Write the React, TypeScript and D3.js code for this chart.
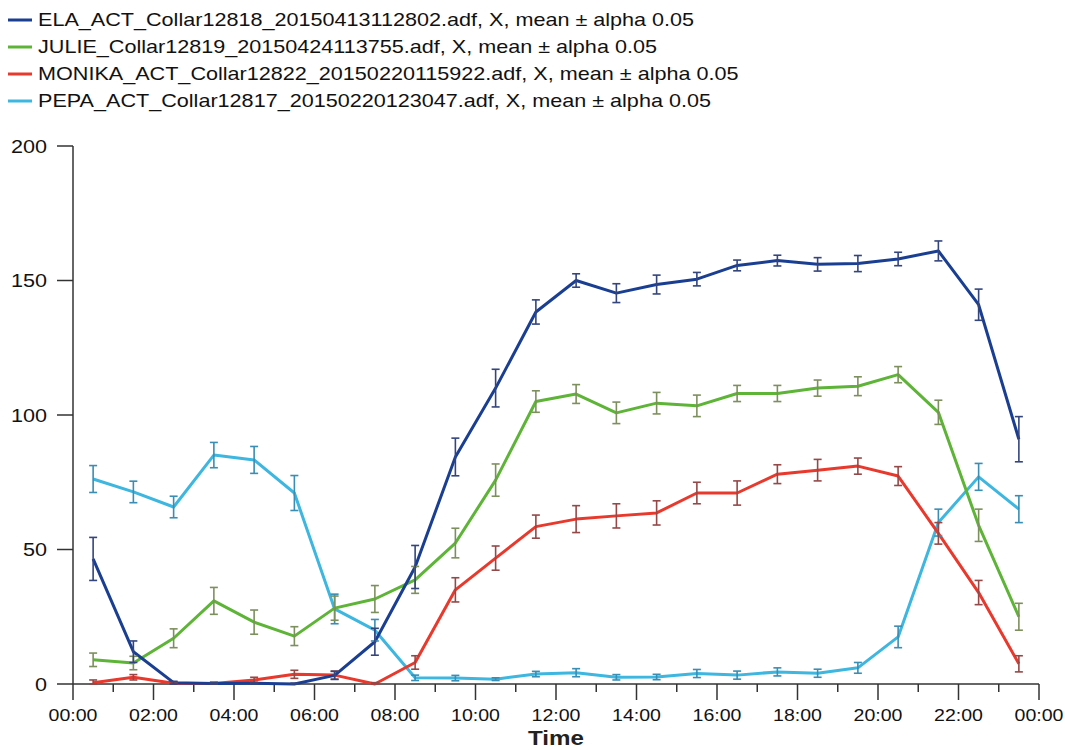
import React from "react";
import * as d3 from "d3";

const hours: number[] = d3.range(0, 24).map((h) => h + 0.5);

const seriesNames: string[] = [
  "ELA_ACT_Collar12818_20150413112802.adf, X, mean ± alpha 0.05",
  "JULIE_Collar12819_20150424113755.adf, X, mean ± alpha 0.05",
  "MONIKA_ACT_Collar12822_20150220115922.adf, X, mean ± alpha 0.05",
  "PEPA_ACT_Collar12817_20150220123047.adf, X, mean ± alpha 0.05",
];

const elaMean = [46.5, 12, 0.5, 0.2, 0.3, 0, 3.2, 15.7, 43.5, 84.4, 110, 138.3, 150, 145.3, 148.5, 150.5, 155.6, 157.4, 156, 156.3, 158, 161, 141, 91];
const elaErr = [8, 4, 0.5, 0.3, 0.3, 0.3, 1.5, 5, 8, 7, 7, 4.5, 2.5, 3.5, 3.5, 2.5, 2, 2, 2.5, 3, 2.5, 3.7, 5.8, 8.4];

const julieMean = [9, 7.8, 17, 30.9, 23, 17.8, 28.2, 31.6, 38.7, 52.4, 75.8, 105, 107.8, 100.8, 104.4, 103.4, 108, 108, 110, 110.7, 115, 101, 59, 25];
const julieErr = [2.5, 2.5, 3.5, 5, 4.5, 3.5, 4.5, 5, 5, 5.5, 6, 4, 3.5, 4, 4, 4, 3, 3, 3, 3.5, 3, 4.5, 6, 5];

const monikaMean = [0.5, 2.5, 0.3, 0.2, 1.5, 3.6, 3.3, 0, 8, 35, 46.8, 58.5, 61.3, 62.5, 63.6, 71, 71, 78, 79.5, 81, 77.3, 56, 34, 7.5];
const monikaErr = [1, 1, 0.5, 0.5, 1, 1.5, 1.5, 0.5, 2.5, 4.5, 4.5, 4.3, 5, 4.5, 4.5, 4, 4.5, 3.5, 4, 3, 3.5, 4, 4.5, 3];

const pepaMean = [76.2, 71.4, 65.8, 85.1, 83.3, 71, 27.9, 20, 2.3, 2.2, 1.8, 3.7, 4.2, 2.5, 2.6, 3.9, 3.3, 4.5, 4, 6, 17.5, 60, 77, 65];
const pepaErr = [5, 4, 4, 4.7, 5, 6.5, 5.5, 4, 1, 1, 0.5, 1, 1.5, 1, 1, 1.5, 1.5, 1.5, 1.5, 2, 4, 5, 5, 5];

const lineColors = ["#1a3f92", "#5db436", "#e8392c", "#3db6e0"];
const barColors = ["#34457e", "#7e8f5e", "#944848", "#3a8db3"];

const yTicks = [0, 50, 100, 150, 200];
const xTickHours = d3.range(0, 25);
const xLabelHours = d3.range(0, 25, 2);

const fmtHour = (h: number) => `${String(h % 24).padStart(2, "0")}:00`;

export default function App() {
  const W = 1065;
  const H = 750;
  const x = d3.scaleLinear().domain([0, 24]).range([73, 1039]);
  const y = d3.scaleLinear().domain([0, 200]).range([684, 146]);

  const means = [elaMean, julieMean, monikaMean, pepaMean];
  const errs = [elaErr, julieErr, monikaErr, pepaErr];

  const line = d3
    .line<number>()
    .x((_, i) => x(hours[i]))
    .y((d) => y(d));

  const font = "'Liberation Sans', Arial, sans-serif";
  const sx = 1.2;
  const drawOrder = [3, 2, 1, 0];

  return (
    <svg
      width={W}
      height={H}
      style={{ position: "absolute", left: 0, top: 0, background: "#fff" }}
      fontFamily={font}
    >
      <rect width={W} height={H} fill="#fff" />
      {/* legend */}
      {seriesNames.map((name, i) => (
        <g key={name}>
          <line x1={8} x2={32} y1={20 + i * 27} y2={20 + i * 27} stroke={lineColors[i]} strokeWidth={3} />
          <text
            transform={`translate(38,${26 + i * 27}) scale(${sx},1)`}
            fontSize={18}
            fill="#111"
          >
            {name}
          </text>
        </g>
      ))}

      {/* y axis */}
      <line x1={73} x2={73} y1={y(200)} y2={y(0)} stroke="#333" strokeWidth={1.5} />
      {yTicks.map((t) => (
        <g key={t}>
          <line x1={57} x2={73} y1={y(t)} y2={y(t)} stroke="#333" strokeWidth={1.5} />
          <text
            transform={`translate(47,${y(t) + 6.5}) scale(${sx},1)`}
            fontSize={18}
            textAnchor="end"
            fill="#111"
          >
            {t}
          </text>
        </g>
      ))}

      {/* x axis */}
      <line x1={x(0)} x2={x(24)} y1={y(0)} y2={y(0)} stroke="#333" strokeWidth={1.5} />
      {xTickHours.map((h) => (
        <line
          key={h}
          x1={x(h)}
          x2={x(h)}
          y1={y(0)}
          y2={y(0) + (h % 2 === 0 ? 16 : 8)}
          stroke="#333"
          strokeWidth={1.5}
        />
      ))}
      {xLabelHours.map((h) => (
        <text
          key={h}
          transform={`translate(${x(h)},${721}) scale(1.15,1)`}
          fontSize={17}
          textAnchor="middle"
          fill="#111"
        >
          {fmtHour(h)}
        </text>
      ))}
      <text
        transform={`translate(${(x(0) + x(24)) / 2},${745}) scale(1.15,1)`}
        fontSize={21}
        fontWeight="bold"
        textAnchor="middle"
        fill="#222"
      >
        Time
      </text>

      {/* series lines */}
      {drawOrder.map((si) => (
        <path
          key={"l" + si}
          d={line(means[si]) ?? ""}
          fill="none"
          stroke={lineColors[si]}
          strokeWidth={3}
          strokeLinejoin="round"
        />
      ))}
      {/* error bars */}
      {drawOrder.map((si) => (
        <g key={"e" + si} stroke={barColors[si]} strokeWidth={1.6}>
          {means[si].map((m, i) => {
            const cx = x(hours[i]);
            const lo = Math.max(0, m - errs[si][i]);
            const hi = m + errs[si][i];
            return (
              <g key={i}>
                <line x1={cx} x2={cx} y1={y(lo)} y2={y(hi)} />
                <line x1={cx - 4} x2={cx + 4} y1={y(lo)} y2={y(lo)} />
                <line x1={cx - 4} x2={cx + 4} y1={y(hi)} y2={y(hi)} />
              </g>
            );
          })}
        </g>
      ))}
    </svg>
  );
}
